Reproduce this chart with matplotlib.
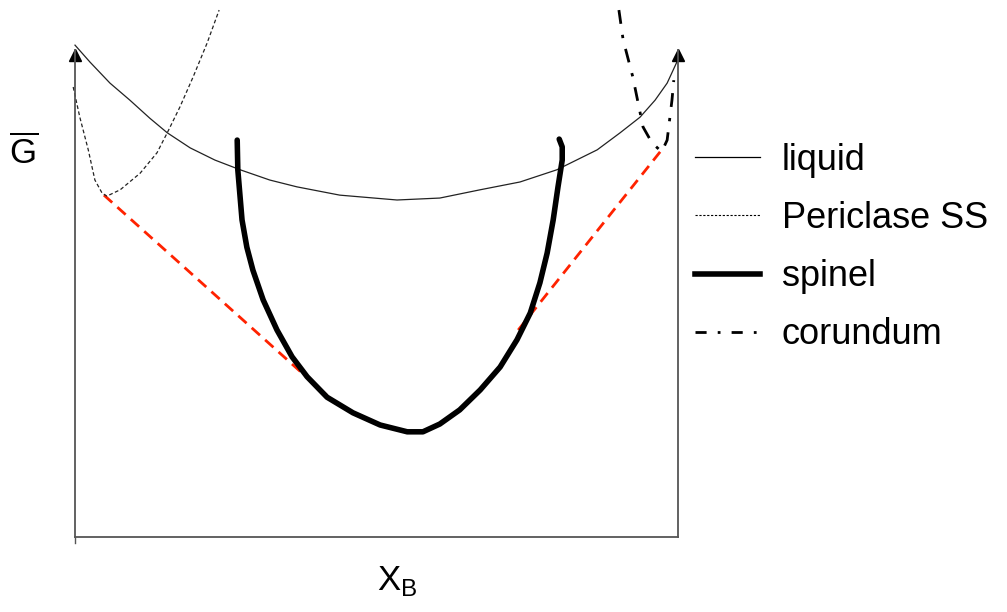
import matplotlib.pyplot as plt
from matplotlib.lines import Line2D

plt.rcParams['font.family'] = ['Liberation Sans', 'DejaVu Sans']
plt.rcParams['mathtext.fontset'] = 'custom'
plt.rcParams['mathtext.rm'] = 'Liberation Sans'

# curves: X_B from 0 to 1, G from bottom (0) to arrow tip (~1)
liquid_x = [0.000, 0.025, 0.058, 0.091, 0.124, 0.153, 0.191, 0.232, 0.274, 0.323, 0.368, 0.439,
            0.534, 0.605, 0.672, 0.738, 0.799, 0.866, 0.904, 0.937, 0.962, 0.982, 0.998]
liquid_g = [1.010, 0.975, 0.932, 0.897, 0.860, 0.830, 0.799, 0.774, 0.754, 0.733, 0.719, 0.702,
            0.692, 0.696, 0.713, 0.729, 0.754, 0.795, 0.830, 0.862, 0.897, 0.932, 0.975]

periclase_x = [-0.003, 0.008, 0.022, 0.033, 0.045, 0.053, 0.075, 0.108, 0.136, 0.153,
               0.174, 0.196, 0.219, 0.239]
periclase_g = [0.924, 0.862, 0.795, 0.733, 0.706, 0.700, 0.713, 0.747, 0.789, 0.830,
               0.883, 0.945, 1.014, 1.082]

spinel_x = [0.269, 0.270, 0.277, 0.285, 0.295, 0.312, 0.335, 0.360, 0.385, 0.418, 0.461,
            0.506, 0.551, 0.577, 0.605, 0.638, 0.672, 0.705, 0.733, 0.755, 0.771, 0.783,
            0.793, 0.801, 0.808, 0.808, 0.803]
spinel_g = [0.815, 0.754, 0.651, 0.595, 0.548, 0.487, 0.425, 0.370, 0.329, 0.287, 0.255,
            0.230, 0.216, 0.216, 0.232, 0.261, 0.302, 0.349, 0.405, 0.460, 0.522, 0.583,
            0.651, 0.719, 0.774, 0.801, 0.817]

corundum_x = [0.902, 0.909, 0.925, 0.942, 0.957, 0.973, 0.982, 0.990, 0.993]
corundum_g = [1.082, 1.021, 0.945, 0.842, 0.809, 0.791, 0.815, 0.897, 0.938]

# common tangent construction
tangent_left_x = [0.048, 0.423]
tangent_left_g = [0.702, 0.285]
tangent_right_x = [0.735, 0.973]
tangent_right_g = [0.425, 0.795]

labels = ['liquid', 'Periclase SS', 'spinel', 'corundum']

fig = plt.figure(figsize=(10.07, 6.12), dpi=100)
ax = fig.add_axes([75/1007, 75/612, 603/1007, 487/612])
ax.set_xlim(0, 1)
ax.set_ylim(0, 1)

ax.plot(tangent_left_x, tangent_left_g, color='#ff2200', lw=2, dashes=(4, 2.5), clip_on=False)
ax.plot(tangent_right_x, tangent_right_g, color='#ff2200', lw=2, dashes=(4, 2.5), clip_on=False)

ax.plot(liquid_x, liquid_g, color='#222222', lw=0.9, clip_on=False)
ax.plot(periclase_x, periclase_g, color='#222222', lw=0.9, dashes=(3, 2), clip_on=False)
ax.plot(spinel_x, spinel_g, color='black', lw=4, solid_capstyle='round',
        solid_joinstyle='round', clip_on=False)
ax.plot(corundum_x, corundum_g, color='black', lw=2, dashes=(5, 4, 1.2, 4), clip_on=False)

ax.spines['top'].set_visible(False)
for s in ['left', 'right', 'bottom']:
    ax.spines[s].set_color('#555555')
    ax.spines[s].set_linewidth(1.3)
ax.set_xticks([])
ax.set_yticks([])
ax.patch.set_alpha(0)

# arrow heads on the two vertical axes
ax.plot([0, 1], [0.99, 0.99], ls='none', marker='^', ms=9, color='black', clip_on=False)
ax.plot([0, 0], [0, -0.012], color='#555555', lw=1, clip_on=False)

ax.text(-0.085, 0.79, r'$\overline{\mathrm{G}}$', fontsize=25, ha='center', va='center',
        transform=ax.transAxes)
ax.text(0.535, -0.09, r'$\mathrm{X}_\mathrm{B}$', fontsize=25, ha='center', va='center',
        transform=ax.transAxes)

handles = [Line2D([], [], color='black', lw=0.9),
           Line2D([], [], color='black', lw=0.8, dashes=(2, 1.5)),
           Line2D([], [], color='black', lw=4),
           Line2D([], [], color='black', lw=2, dashes=(4, 4, 1, 4))]
fig.legend(handles, labels, loc='upper left', bbox_to_anchor=(695/1007, 1 - 143/612),
           frameon=False, fontsize=26, handlelength=1.8, handletextpad=0.6,
           labelspacing=0.64, borderaxespad=0, borderpad=0)

fig.savefig('out.png', dpi=100)
